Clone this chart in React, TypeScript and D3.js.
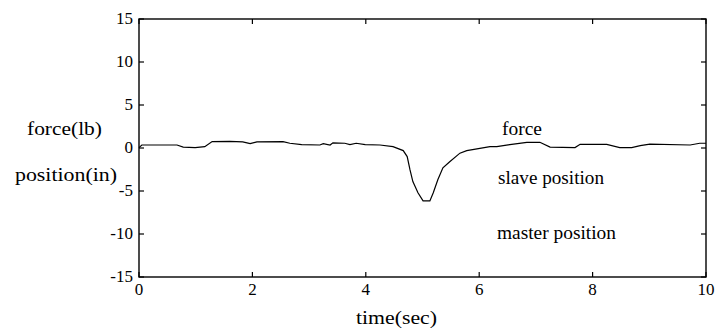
import React from "react";
import * as d3 from "d3";

const timeSec = [0, 0.05, 0.37, 0.67, 0.78, 0.99, 1.16, 1.29, 1.6, 1.83, 1.96, 2.08, 2.54, 2.66, 2.87, 3.19, 3.25, 3.37, 3.42, 3.63, 3.72, 3.83, 3.99, 4.25, 4.48, 4.66, 4.73, 4.78, 4.83, 4.92, 5.01, 5.13, 5.19, 5.27, 5.36, 5.48, 5.66, 5.78, 5.96, 6.19, 6.31, 6.54, 6.84, 7.07, 7.25, 7.69, 7.78, 8.25, 8.48, 8.69, 8.84, 9.01, 9.72, 9.89, 10];
const forceLb = [0.05, 0.35, 0.35, 0.35, 0.1, 0.05, 0.15, 0.75, 0.78, 0.72, 0.5, 0.72, 0.75, 0.55, 0.4, 0.35, 0.5, 0.35, 0.6, 0.55, 0.4, 0.55, 0.4, 0.35, 0.15, -0.3, -1.0, -2.55, -3.9, -5.2, -6.15, -6.15, -5.2, -3.7, -2.3, -1.6, -0.6, -0.3, -0.1, 0.15, 0.15, 0.4, 0.66, 0.66, 0.1, 0.05, 0.43, 0.43, 0.05, 0.05, 0.27, 0.45, 0.35, 0.55, 0.55];

const xTicks = [0, 2, 4, 6, 8, 10];
const yTicks = [-15, -10, -5, 0, 5, 10, 15];

const W = 715, H = 331;
const left = 139, right = 706, top = 19, bottom = 277;

const FONT = '"Liberation Serif", "Times New Roman", Times, serif';

export default function App() {
  const x = d3.scaleLinear().domain([0, 10]).range([left, right]);
  const y = d3.scaleLinear().domain([-15, 15]).range([bottom, top]);
  const pts: [number, number][] = timeSec.map((t, i) => [t, forceLb[i]]);
  const line = d3.line<[number, number]>().x(d => x(d[0])).y(d => y(d[1]));
  const tl = 5;
  const ts = { fontFamily: FONT };
  return (
    <svg width={W} height={H} style={{ position: "absolute", left: 0, top: 0, background: "#fff" }}>
      <rect x={0} y={0} width={W} height={H} fill="#fff" />
      <path d={line(pts) || ""} fill="none" stroke="#000" strokeWidth={1.2} />
      <rect x={left} y={top} width={right - left} height={bottom - top} fill="none" stroke="#000" strokeWidth={1.4} />
      {xTicks.map(t => (
        <g key={"x" + t}>
          <line x1={x(t)} x2={x(t)} y1={bottom} y2={bottom - tl} stroke="#000" strokeWidth={1.2} />
          <line x1={x(t)} x2={x(t)} y1={top} y2={top + tl} stroke="#000" strokeWidth={1.2} />
          <text x={x(t)} y={bottom + 18} textAnchor="middle" fontSize={17} fill="#000" style={ts}>{t}</text>
        </g>
      ))}
      {yTicks.map(t => (
        <g key={"y" + t}>
          <line x1={left} x2={left + tl} y1={y(t)} y2={y(t)} stroke="#000" strokeWidth={1.2} />
          <line x1={right} x2={right - tl} y1={y(t)} y2={y(t)} stroke="#000" strokeWidth={1.2} />
          <text x={left - 6} y={y(t) + 5} textAnchor="end" fontSize={17} fill="#000" style={ts}>{t}</text>
        </g>
      ))}
      <text x={27} y={135} fontSize={19} textLength={75} lengthAdjust="spacingAndGlyphs" fill="#000" style={ts}>force(lb)</text>
      <text x={15} y={181} fontSize={19} textLength={102} lengthAdjust="spacingAndGlyphs" fill="#000" style={ts}>position(in)</text>
      <text x={502} y={135} fontSize={19} textLength={40} lengthAdjust="spacingAndGlyphs" fill="#000" style={ts}>force</text>
      <text x={498} y={184} fontSize={19} textLength={106} lengthAdjust="spacingAndGlyphs" fill="#000" style={ts}>slave position</text>
      <text x={497} y={239} fontSize={19} textLength={119} lengthAdjust="spacingAndGlyphs" fill="#000" style={ts}>master position</text>
      <text x={356} y={324} fontSize={19} textLength={81} lengthAdjust="spacingAndGlyphs" fill="#000" style={ts}>time(sec)</text>
    </svg>
  );
}
